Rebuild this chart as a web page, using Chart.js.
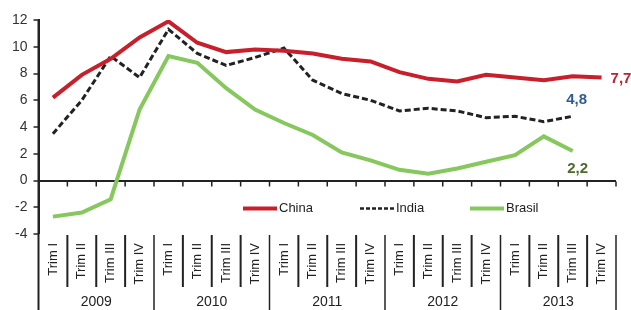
<!DOCTYPE html>
<html>
<head>
<meta charset="utf-8">
<script src="https://cdn.jsdelivr.net/npm/chart.js@4/dist/chart.umd.min.js"></script>
<style>
  html, body { margin: 0; padding: 0; background: #fff; }
  #wrap { width: 631px; height: 310px; }
</style>
</head>
<body>
<div id="wrap"><canvas id="myChart" width="631" height="310"></canvas></div>
<script>
const years = ["2009", "2010", "2011", "2012", "2013"];
const quarters = ["Trim I", "Trim II", "Trim III", "Trim IV"];
const yTicks = [-4, -2, 0, 2, 4, 6, 8, 10, 12];

const china = [6.2, 7.9, 9.1, 10.7, 11.9, 10.3, 9.6, 9.8, 9.7, 9.5, 9.1, 8.9, 8.1, 7.6, 7.4, 7.9, 7.7, 7.5, 7.8, 7.7];
const india = [3.5, 6.0, 9.3, 7.7, 11.3, 9.5, 8.6, 9.2, 9.9, 7.5, 6.5, 6.0, 5.2, 5.4, 5.2, 4.7, 4.8, 4.4, 4.8];
const brasil = [-2.7, -2.4, -1.4, 5.3, 9.3, 8.8, 6.9, 5.3, 4.3, 3.4, 2.1, 1.5, 0.8, 0.5, 0.9, 1.4, 1.9, 3.3, 2.2];

// labels built from years x quarters
const labels = [];
years.forEach(() => quarters.forEach(q => labels.push(q)));

const FONT = "'Liberation Sans', Arial, sans-serif";
const RED = "#c8202b";
const GREEN = "#86c85d";
const DARK = "#222222";

// draws the zero axis ticks, separators, years, legend and end labels
const extras = {
  id: "extras",
  afterDraw(chart) {
    const ctx = chart.ctx;
    const area = chart.chartArea;
    const x = chart.scales.x;
    const y = chart.scales.y;
    const w = (area.right - area.left) / labels.length;
    const y0 = Math.round(y.getPixelForValue(0)) + 0.5;

    ctx.save();
    ctx.strokeStyle = DARK;
    ctx.lineWidth = 1.5;

    // tick marks on the zero line
    for (let k = 1; k <= labels.length; k++) {
      const px = area.left + k * w;
      ctx.beginPath();
      ctx.moveTo(px, y0);
      ctx.lineTo(px, y0 + 5);
      ctx.stroke();
    }

    // y axis runs down through the label block
    ctx.lineWidth = 2;
    ctx.beginPath();
    ctx.moveTo(area.left, area.top);
    ctx.lineTo(area.left, chart.height);
    ctx.stroke();

    // separators between quarters and years
    for (let k = 1; k <= labels.length; k++) {
      const px = area.left + k * w;
      const isYear = k % quarters.length === 0;
      ctx.lineWidth = isYear ? 1.5 : 2;
      ctx.beginPath();
      ctx.moveTo(px, area.bottom + 1);
      ctx.lineTo(px, isYear ? chart.height : area.bottom + 53);
      ctx.stroke();
    }

    // year labels
    ctx.fillStyle = DARK;
    ctx.font = "14px " + FONT;
    ctx.textAlign = "center";
    ctx.textBaseline = "middle";
    years.forEach((yr, i) => {
      const cx = area.left + (i * quarters.length + quarters.length / 2) * w;
      ctx.fillText(yr, cx, 302);
    });

    // legend inside the plot
    const items = [
      { label: chart.data.datasets[0].label, color: RED, dash: [], width: 4, x: 243 },
      { label: chart.data.datasets[1].label, color: DARK, dash: [4, 2], width: 2.5, x: 360 },
      { label: chart.data.datasets[2].label, color: GREEN, dash: [], width: 4, x: 470 }
    ];
    const ly = y.getPixelForValue(-2.1);
    ctx.font = "13px " + FONT;
    ctx.textAlign = "left";
    items.forEach(it => {
      ctx.strokeStyle = it.color;
      ctx.lineWidth = it.width;
      ctx.setLineDash(it.dash);
      ctx.beginPath();
      ctx.moveTo(it.x, ly);
      ctx.lineTo(it.x + 34, ly);
      ctx.stroke();
      ctx.setLineDash([]);
      ctx.fillStyle = DARK;
      ctx.fillText(it.label, it.x + 36, ly);
    });

    // end value labels
    ctx.font = "bold 15px " + FONT;
    const lastC = china.length - 1;
    const lastI = india.length - 1;
    const lastB = brasil.length - 1;
    ctx.fillStyle = "#c0222c";
    ctx.textAlign = "left";
    ctx.fillText(String(china[lastC]).replace(".", ","), x.getPixelForValue(lastC) + 9, y.getPixelForValue(china[lastC]) + 1);
    ctx.fillStyle = "#2f5a97";
    ctx.textAlign = "center";
    ctx.fillText(String(india[lastI]).replace(".", ","), x.getPixelForValue(lastI) + 4, y.getPixelForValue(india[lastI]) - 16);
    ctx.fillStyle = "#4e6a2c";
    ctx.fillText(String(brasil[lastB]).replace(".", ","), x.getPixelForValue(lastB) + 5, y.getPixelForValue(brasil[lastB]) + 18);
    ctx.restore();
  }
};

const data = {
  labels: labels,
  datasets: [
    {
      label: "China",
      data: china,
      borderColor: RED,
      borderWidth: 4,
      pointRadius: 0,
      tension: 0,
    },
    {
      label: "India",
      data: india,
      borderColor: DARK,
      borderWidth: 3,
      borderDash: [6, 3],
      pointRadius: 0,
      tension: 0,
    },
    {
      label: "Brasil",
      data: brasil,
      borderColor: GREEN,
      borderWidth: 4,
      pointRadius: 0,
      tension: 0,
    },
  ],
};

const config = {
  type: "line",
  data: data,
  plugins: [extras],
  options: {
    responsive: false,
    animation: false,
    layout: { padding: { top: 20, right: 15, left: 0, bottom: 0 } },
    plugins: {
      legend: { display: false },
      tooltip: { enabled: false },
    },
    scales: {
      x: {
        type: "category",
        offset: true,
        grid: { display: false, drawTicks: false },
        border: { display: false },
        ticks: {
          autoSkip: false,
          minRotation: 90,
          maxRotation: 90,
          padding: 9,
          color: DARK,
          font: { size: 13, family: FONT },
        },
        afterFit(axis) { axis.height = 76; },
      },
      y: {
        min: -4,
        max: 12,
        afterBuildTicks(axis) { axis.ticks = yTicks.map(v => ({ value: v })); },
        grid: {
          color: c => (c.tick && c.tick.value === 0 ? DARK : "transparent"),
          lineWidth: c => (c.tick && c.tick.value === 0 ? 2 : 0),
          tickColor: DARK,
          tickLength: 5,
          tickWidth: 1.5,
        },
        border: { display: true, color: DARK, width: 2 },
        ticks: {
          padding: 6,
          color: "#333333",
          font: { size: 14, family: FONT },
        },
        afterFit(axis) { axis.width = 38.5; },
      },
    },
  },
};

let myChart = new Chart(document.getElementById("myChart"), config);
</script>
</body>
</html>
